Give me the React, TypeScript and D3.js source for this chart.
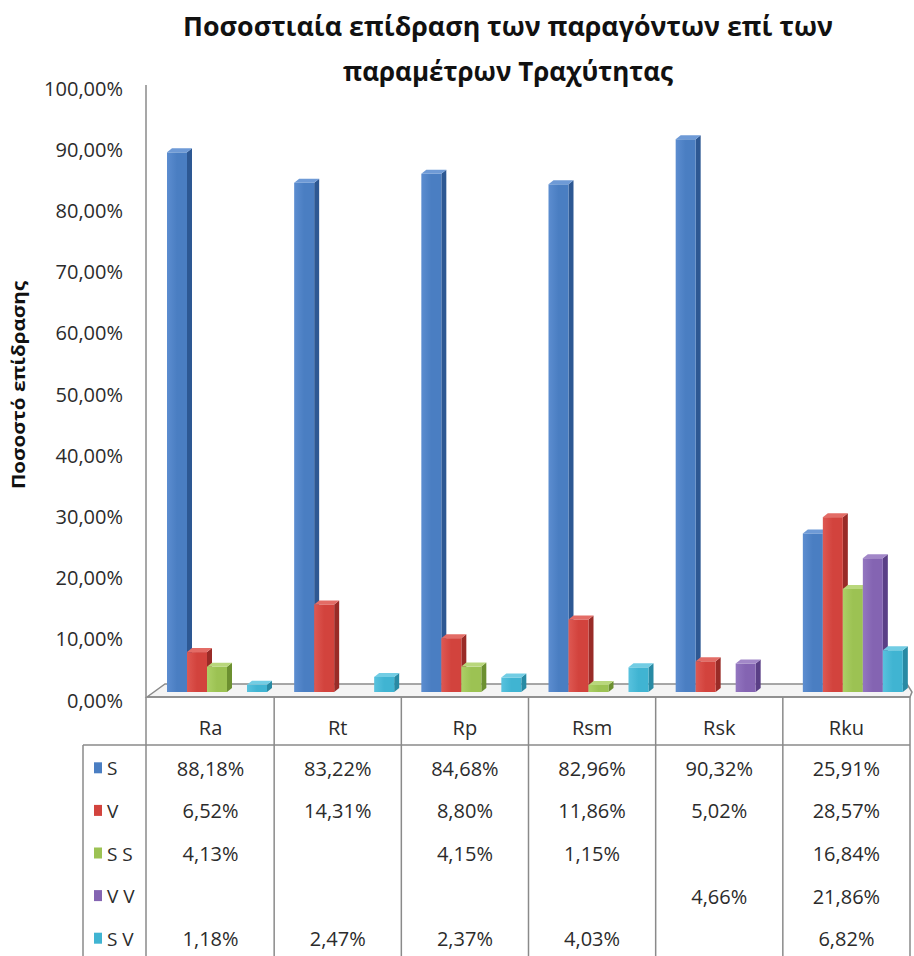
import React from "react";
import * as d3 from "d3";

const categories = ["Ra", "Rt", "Rp", "Rsm", "Rsk", "Rku"];
const seriesNames = ["S", "V", "S S", "V V", "S V"];
const sValues = [88.18, 83.22, 84.68, 82.96, 90.32, 25.91];
const vValues = [6.52, 14.31, 8.8, 11.86, 5.02, 28.57];
const ssValues = [4.13, null, 4.15, 1.15, null, 16.84];
const vvValues = [null, null, null, null, 4.66, 21.86];
const svValues = [1.18, 2.47, 2.37, 4.03, null, 6.82];
const yTicks = [0, 10, 20, 30, 40, 50, 60, 70, 80, 90, 100];

const seriesValues: (number | null)[][] = [sValues, vValues, ssValues, vvValues, svValues];
const seriesColors = [
  { front: "#4a7ec2", side: "#2d5893", top: "#6e9ad6", light: "#5c8dd0" },
  { front: "#d2433d", side: "#992b27", top: "#e36c66", light: "#de5852" },
  { front: "#9cc253", side: "#6c9030", top: "#b9d77c", light: "#acd066" },
  { front: "#8464b2", side: "#5a3f86", top: "#a287c8", light: "#9376c0" },
  { front: "#40b4d2", side: "#288aa4", top: "#72cde4", light: "#58c2de" },
];

const W = 914;
const H = 956;
const FONT = "'Open Sans', 'DejaVu Sans', sans-serif";
const TXT = "#2b2b2b";
const LINE = "#8a8a8a";

const fmt = (v: number) => v.toFixed(2).replace(".", ",") + "%";

export default function App() {
  const xScale = d3.scaleBand<string>().domain(categories).range([147, 910]);
  const inner = d3.scaleBand<string>().domain(seriesNames).range([20, 120]);
  const yBar = d3.scaleLinear().domain([0, 100]).range([692, 80]);
  const yWall = d3.scaleLinear().domain([0, 100]).range([700, 88]);
  const rowScale = d3.scaleBand<string>().domain(seriesNames).range([747, 960]);
  const dx = 5;
  const dy = -4;
  const floorFront = 697;
  const floorBack = 684;
  const tableHeaderLine = 745;
  const tableLeft = 83;

  const bars: React.ReactNode[] = [];
  categories.forEach((cat, ci) => {
    seriesNames.forEach((sn, si) => {
      const v = seriesValues[si][ci];
      if (v == null) return;
      const x = (xScale(cat) as number) + (inner(sn) as number);
      const w = inner.bandwidth();
      const y0 = yBar(0);
      const y1 = yBar(v);
      const c = seriesColors[si];
      const pts = (a: number[][]) => a.map((p) => p.join(",")).join(" ");
      bars.push(
        <g key={cat + sn}>
          <polygon
            points={pts([
              [x + w, y1],
              [x + w + dx, y1 + dy],
              [x + w + dx, y0 + dy],
              [x + w, y0],
            ])}
            fill={c.side}
          />
          <rect x={x} y={y1} width={w} height={y0 - y1} fill={`url(#grad${si})`} />
          <polygon
            points={pts([
              [x, y1],
              [x + dx, y1 + dy],
              [x + w + dx, y1 + dy],
              [x + w, y1],
            ])}
            fill={c.top}
          />
        </g>
      );
    });
  });

  return (
    <svg
      width={W}
      height={H}
      style={{ position: "absolute", left: 0, top: 0, background: "#fff" }}
      xmlns="http://www.w3.org/2000/svg"
    >
      <defs>
        {seriesColors.map((c, i) => (
          <linearGradient key={i} id={`grad${i}`} x1="0" x2="1" y1="0" y2="0">
            <stop offset="0" stopColor={c.light} />
            <stop offset="0.5" stopColor={c.front} />
            <stop offset="1" stopColor={c.front} />
          </linearGradient>
        ))}
      </defs>
      <rect x={0} y={0} width={W} height={H} fill="#fff" />

      {/* Title */}
      <text
        x={508}
        y={36}
        textAnchor="middle"
        fontFamily={FONT}
        fontWeight="bold"
        fontSize={27}
        fill="#111"
        textLength={650}
        lengthAdjust="spacingAndGlyphs"
      >
        Ποσοστιαία επίδραση των παραγόντων επί των
      </text>
      <text
        x={508}
        y={81}
        textAnchor="middle"
        fontFamily={FONT}
        fontWeight="bold"
        fontSize={27}
        fill="#111"
        textLength={330}
        lengthAdjust="spacingAndGlyphs"
      >
        παραμέτρων Τραχύτητας
      </text>

      {/* Y axis title */}
      <text
        transform={`translate(25, 385) rotate(-90)`}
        textAnchor="middle"
        fontFamily={FONT}
        fontWeight="bold"
        fontSize={18}
        fill="#111"
        textLength={208}
        lengthAdjust="spacingAndGlyphs"
      >
        Ποσοστό επίδρασης
      </text>

      {/* Y tick labels */}
      {yTicks.map((t) => (
        <text
          key={t}
          x={123}
          y={yWall(t)}
          dominantBaseline="central"
          textAnchor="end"
          fontFamily={FONT}
          fontSize={20}
          fill={TXT}
        >
          {fmt(t)}
        </text>
      ))}

      {/* floor */}
      <polygon
        points={`147,${floorFront} ${147 + 18},${floorBack} 907,${floorBack} 912,${floorFront - 5} 910,${floorFront}`}
        fill="#f4f4f4"
        stroke={LINE}
        strokeWidth={1.5}
      />

      {/* axis line */}
      <line x1={146} y1={85} x2={146} y2={H} stroke={LINE} strokeWidth={1.5} />

      {bars}

      {/* Table */}
      <line x1={147} y1={floorFront} x2={910} y2={floorFront} stroke={LINE} strokeWidth={1.5} />
      <line x1={tableLeft} y1={tableHeaderLine} x2={910} y2={tableHeaderLine} stroke={LINE} strokeWidth={1.5} />
      <line x1={tableLeft} y1={tableHeaderLine} x2={tableLeft} y2={H} stroke={LINE} strokeWidth={1.5} />
      {categories.map((cat) => {
        const xr = (xScale(cat) as number) + xScale.bandwidth();
        return <line key={"v" + cat} x1={xr} y1={floorFront} x2={xr} y2={H} stroke={LINE} strokeWidth={1.5} />;
      })}
      {categories.map((cat) => (
        <text
          key={"h" + cat}
          x={(xScale(cat) as number) + xScale.bandwidth() / 2}
          y={727}
          dominantBaseline="central"
          textAnchor="middle"
          fontFamily={FONT}
          fontSize={20}
          fill={TXT}
        >
          {cat}
        </text>
      ))}
      {seriesNames.map((sn, si) => {
        const cy = (rowScale(sn) as number) + rowScale.bandwidth() / 2;
        return (
          <g key={"row" + sn}>
            <rect x={94} y={cy - 6} width={8} height={11} fill={seriesColors[si].front} />
            <text
              x={107}
              y={cy}
              dominantBaseline="central"
              fontFamily={FONT}
              fontSize={19}
              fill={TXT}
            >
              {sn}
            </text>
            {categories.map((cat, ci) => {
              const v = seriesValues[si][ci];
              if (v == null) return null;
              return (
                <text
                  key={cat}
                  x={(xScale(cat) as number) + xScale.bandwidth() / 2}
                  y={cy}
                  dominantBaseline="central"
                  textAnchor="middle"
                  fontFamily={FONT}
                  fontSize={20}
                  fill={TXT}
                >
                  {fmt(v)}
                </text>
              );
            })}
          </g>
        );
      })}
    </svg>
  );
}
